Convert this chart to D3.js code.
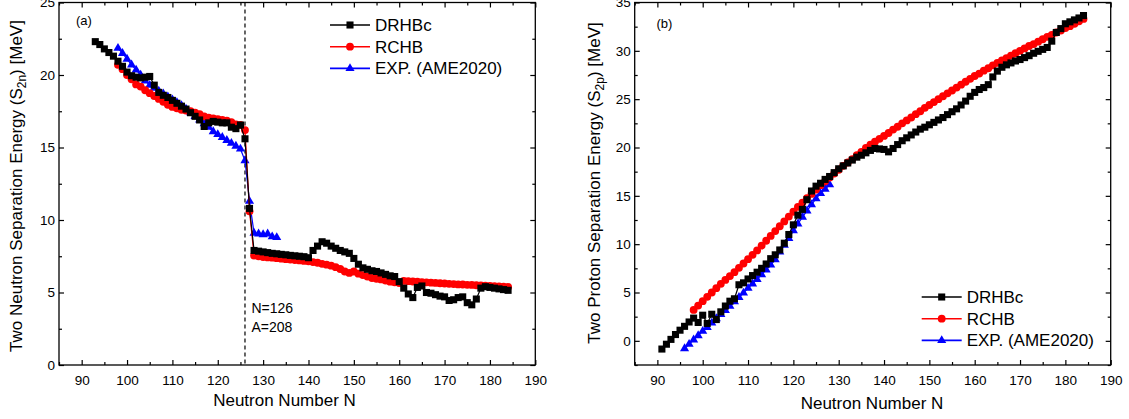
<!DOCTYPE html>
<html>
<head>
<meta charset="utf-8">
<script src="https://cdn.jsdelivr.net/npm/d3@7"></script>
<style>
  body { margin: 0; background: #fff; }
  svg text { font-family: "Liberation Sans", Arial, sans-serif; fill: #000; }
</style>
</head>
<body>
<script>
// ---- data ----
// panel (a): two neutron separation energy S2n [MeV]
var s2nDrhbcStart = 93;
var s2nDrhbc = [
  22.3, 22.1, 21.8, 21.55, 21.3, 20.95, 20.6, 20.2, 19.95, 19.85,
  19.8, 19.85, 19.9, 19.3, 18.8, 18.6, 18.45, 18.25, 18.05, 17.85,
  17.65, 17.4, 17.15, 16.9, 16.45, 16.7, 16.8, 16.75, 16.7, 16.7,
  16.4, 16.3, 16.55, 15.6, 10.8, 7.9, 7.85, 7.8, 7.75, 7.7,
  7.67, 7.63, 7.6, 7.56, 7.53, 7.5, 7.47, 7.4, 7.9, 8.2,
  8.5, 8.4, 8.2, 8.05, 7.9, 7.8, 7.7, 7.35, 6.95, 6.7,
  6.6, 6.5, 6.45, 6.35, 6.25, 6.15, 6.1, 5.75, 5.3, 4.9,
  4.65, 5.35, 5.45, 5.0, 4.95, 4.85, 4.75, 4.7, 4.45, 4.5,
  4.65, 4.7, 4.3, 4.15, 4.55, 5.3, 5.4, 5.35, 5.3, 5.25,
  5.2, 5.15
];
var s2nRchbStart = 98;
var s2nRchb = [
  20.7, 20.4, 20.0, 19.7, 19.35, 19.2, 18.95, 18.75, 18.55, 18.35,
  18.15, 17.95, 17.8, 17.7, 17.6, 17.55, 17.5, 17.4, 17.3, 17.15,
  17.05, 17.0, 16.95, 16.9, 16.85, 16.75, 16.6, 16.55, 16.2, 10.6,
  7.55, 7.5, 7.45, 7.42, 7.4, 7.37, 7.33, 7.3, 7.27, 7.24,
  7.21, 7.18, 7.15, 7.1, 7.05, 6.98, 6.92, 6.85, 6.75, 6.62,
  6.45, 6.35, 6.45, 6.3, 6.2, 6.1, 6.0, 5.95, 5.9, 5.82,
  5.75, 5.7, 5.65, 5.8, 5.78, 5.76, 5.74, 5.72, 5.7, 5.68,
  5.66, 5.64, 5.62, 5.6, 5.58, 5.56, 5.55, 5.53, 5.52, 5.5,
  5.49, 5.47, 5.46, 5.44, 5.42, 5.4, 5.38
];
var s2nExpStart = 98;
var s2nExp = [
  21.85, 21.5, 21.1, 20.7, 20.35, 20.0, 19.6, 19.3, 19.1, 18.9,
  18.7, 18.5, 18.3, 18.1, 17.9, 17.65, 17.4, 17.15, 16.9, 16.65,
  16.4, 16.1, 15.9, 15.7, 15.5, 15.3, 15.1, 14.9, 14.1, 11.3,
  9.1, 9.05, 9.0, 9.05, 8.85, 8.8
];

// panel (b): two proton separation energy S2p [MeV]
var s2pDrhbcStart = 91;
var s2pDrhbc = [
  -0.85, -0.35, 0.15, 0.65, 1.1, 1.5, 1.95, 2.35, 1.9, 2.65,
  1.8, 2.75, 2.2, 3.0, 3.6, 4.1, 4.35, 5.8, 6.0, 6.4,
  6.75, 7.1, 7.5, 7.95, 8.5, 8.9, 9.4, 10.1, 11.0, 12.0,
  13.0, 13.6, 14.6, 15.5, 16.0, 16.3, 16.7, 17.0, 17.4, 17.8,
  18.1, 18.4, 18.7, 19.0, 19.2, 19.45, 19.7, 19.9, 19.85, 19.8,
  19.55, 19.9, 20.3, 20.7, 21.0, 21.3, 21.6, 21.9, 22.1, 22.35,
  22.6, 22.85, 23.1, 23.4, 23.7, 24.0, 24.4, 24.8, 25.3, 25.7,
  26.0, 26.2, 26.5, 27.3, 27.9, 28.3, 28.55, 28.75, 28.95, 29.1,
  29.3, 29.5, 29.75, 29.95, 30.15, 30.35, 31.0, 31.9, 32.3, 32.8,
  33.0, 33.2, 33.4, 33.65
];
var s2pRchbStart = 98;
var s2pRchb = [
  3.2, 3.65, 4.1, 4.55, 5.0, 5.45, 5.9, 6.3, 6.7, 7.1,
  7.55, 8.0, 8.45, 8.9, 9.35, 9.85, 10.35, 10.85, 11.35, 11.85,
  12.35, 12.85, 13.35, 13.85, 14.3, 14.75, 15.2, 15.65, 16.1, 16.5,
  16.9, 17.3, 17.7, 18.1, 18.45, 18.8, 19.2, 19.55, 19.95, 20.3,
  20.6, 20.9, 21.2, 21.5, 21.85, 22.15, 22.5, 22.8, 23.1, 23.45,
  23.75, 24.1, 24.4, 24.7, 25.0, 25.3, 25.6, 25.9, 26.2, 26.5,
  26.8, 27.1, 27.4, 27.65, 27.95, 28.2, 28.5, 28.75, 29.0, 29.25,
  29.5, 29.75, 30.0, 30.25, 30.5, 30.7, 30.95, 31.2, 31.45, 31.65,
  31.9, 32.1, 32.35, 32.55, 32.8, 33.05, 33.3
];
var s2pExpStart = 96;
var s2pExp = [
  -0.8, -0.35, 0.1, 0.55, 1.0, 1.4, 1.85, 2.3, 2.75, 3.15,
  3.6, 4.05, 4.5, 4.95, 5.45, 5.9, 6.35, 6.85, 7.35, 7.85,
  8.4, 9.2, 9.9, 10.6, 11.4, 12.1, 12.8, 13.45, 14.1, 14.7,
  15.25, 15.7, 16.15
];

var legendNames = ["DRHBc", "RCHB", "EXP. (AME2020)"];
var xTicks = [90, 100, 110, 120, 130, 140, 150, 160, 170, 180, 190];

// ---- layout ----
var svg_width = 1129, svg_height = 419;
var svg = d3.select("body").append("svg")
  .attr("width", svg_width)
  .attr("height", svg_height);

// turn a start N + value list into points
function toPoints(start, vals) {
  return vals.map(function(v, i) { return { n: start + i, v: v }; });
}

var styles = [
  { color: "#000000", symbol: d3.symbolSquare, size: 50 },
  { color: "#ff0000", symbol: d3.symbolCircle, size: 48 },
  { color: "#0000ff", symbol: d3.symbolTriangle, size: 36 }
];

function drawPanel(p) {
  var xScale = d3.scaleLinear().domain([85, 190]).range([p.left, p.right]);
  var yScale = d3.scaleLinear().domain(p.yDomain).range([p.bottom, p.top]);
  var g = svg.append("g");

  // minor ticks (inward), all four sides
  var xMinor = d3.range(85, 191, 5).filter(function(d) { return d % 10 !== 0; });
  var yMinor = d3.range(p.yDomain[0], p.yDomain[1] + 0.01, 2.5)
    .filter(function(d) { return p.yTicks.indexOf(d) < 0; });

  function addAxis(axis, tx, ty) {
    var a = g.append("g")
      .attr("transform", "translate(" + tx + "," + ty + ")")
      .call(axis);
    a.select(".domain").remove();
    a.selectAll("line").attr("stroke", "#000").attr("stroke-width", 1.2);
    return a;
  }

  // bottom: major with labels
  var xb = addAxis(d3.axisBottom(xScale).tickValues(xTicks).tickSize(-5).tickPadding(10)
    .tickFormat(d3.format("d")), 0, p.bottom);
  xb.selectAll("text").attr("font-size", "13.5px").attr("dy", "0.71em")
    .style("font-family", "'Liberation Sans', Arial, sans-serif");
  addAxis(d3.axisBottom(xScale).tickValues(xMinor).tickSize(-3).tickFormat(""), 0, p.bottom);
  // top
  addAxis(d3.axisTop(xScale).tickValues(xTicks).tickSize(-5).tickFormat(""), 0, p.top);
  addAxis(d3.axisTop(xScale).tickValues(xMinor).tickSize(-3).tickFormat(""), 0, p.top);
  // left
  var yl = addAxis(d3.axisLeft(yScale).tickValues(p.yTicks).tickSize(-5).tickPadding(4)
    .tickFormat(d3.format("d")), p.left, 0);
  yl.selectAll("text").attr("font-size", "13.5px")
    .style("font-family", "'Liberation Sans', Arial, sans-serif");
  addAxis(d3.axisLeft(yScale).tickValues(yMinor).tickSize(-3).tickFormat(""), p.left, 0);
  // right
  addAxis(d3.axisRight(yScale).tickValues(p.yTicks).tickSize(-5).tickFormat(""), p.right, 0);
  addAxis(d3.axisRight(yScale).tickValues(yMinor).tickSize(-3).tickFormat(""), p.right, 0);

  // frame
  g.append("rect")
    .attr("x", p.left).attr("y", p.top)
    .attr("width", p.right - p.left).attr("height", p.bottom - p.top)
    .attr("fill", "none").attr("stroke", "#000").attr("stroke-width", 1.3);

  if (p.extra) p.extra(g, xScale, yScale);

  // series: EXP first, then RCHB, DRHBc on top
  var order = [2, 1, 0];
  order.forEach(function(k) {
    var pts = p.series[k];
    var st = styles[k];
    var line = d3.line().x(function(d) { return xScale(d.n); }).y(function(d) { return yScale(d.v); });
    g.append("path").datum(pts)
      .attr("d", line).attr("fill", "none")
      .attr("stroke", st.color).attr("stroke-width", 1.2);
    g.selectAll(".m" + k).data(pts).enter().append("path")
      .attr("class", "m" + k)
      .attr("transform", function(d) { return "translate(" + xScale(d.n) + "," + yScale(d.v) + ")"; })
      .attr("d", d3.symbol().type(st.symbol).size(st.size))
      .attr("fill", st.color);
  });

  // legend
  legendNames.forEach(function(name, i) {
    var ly = p.legendY + i * 21.7;
    var st = styles[i];
    g.append("line")
      .attr("x1", p.legendX).attr("x2", p.legendX + 40)
      .attr("y1", ly).attr("y2", ly)
      .attr("stroke", st.color).attr("stroke-width", 1.6);
    g.append("path")
      .attr("transform", "translate(" + (p.legendX + 20) + "," + ly + ")")
      .attr("d", d3.symbol().type(st.symbol).size(st.size))
      .attr("fill", st.color);
    g.append("text")
      .attr("x", p.legendX + 45).attr("y", ly + 6)
      .attr("font-size", "17px")
      .text(name);
  });

  // panel tag
  g.append("text").attr("x", p.tagX).attr("y", p.tagY)
    .attr("font-size", "13px").text(p.tag);

  // x-axis title
  g.append("text")
    .attr("x", p.xTitleX).attr("y", p.xTitleY)
    .attr("text-anchor", "middle")
    .attr("font-size", "17px")
    .text("Neutron Number N");

  // rotated y-axis title with subscript
  var yt = g.append("text")
    .attr("text-anchor", "middle")
    .attr("font-size", "17px")
    .attr("transform", "translate(" + p.yTitleX + "," + p.yTitleY + ") rotate(-90)");
  yt.append("tspan").text(p.yTitleA);
  yt.append("tspan").attr("font-size", "12px").attr("dy", 4).text(p.yTitleSub);
  yt.append("tspan").attr("dy", -4).text(") [MeV]");
}

drawPanel({
  left: 59, right: 535.3, top: 2.5, bottom: 365,
  yDomain: [0, 25], yTicks: [0, 5, 10, 15, 20, 25],
  series: [toPoints(s2nDrhbcStart, s2nDrhbc), toPoints(s2nRchbStart, s2nRchb), toPoints(s2nExpStart, s2nExp)],
  legendX: 330, legendY: 25,
  tag: "(a)", tagX: 76, tagY: 25,
  xTitleX: 284.5, xTitleY: 406,
  yTitleX: 22, yTitleY: 186,
  yTitleA: "Two Neutron Separation Energy (S", yTitleSub: "2n",
  extra: function(g, xScale, yScale) {
    // magic number N=126 marker
    g.append("line")
      .attr("x1", xScale(126)).attr("x2", xScale(126))
      .attr("y1", yScale(25)).attr("y2", yScale(0))
      .attr("stroke", "#000").attr("stroke-width", 1.2)
      .attr("stroke-dasharray", "4,3");
    g.append("text").attr("x", xScale(126) + 6.5).attr("y", 313)
      .attr("font-size", "14px").text("N=126");
    g.append("text").attr("x", xScale(126) + 6.5).attr("y", 332)
      .attr("font-size", "14px").text("A=208");
  }
});

drawPanel({
  left: 634.7, right: 1110.7, top: 2.5, bottom: 365,
  yDomain: [-2.5, 35], yTicks: [0, 5, 10, 15, 20, 25, 30, 35],
  series: [toPoints(s2pDrhbcStart, s2pDrhbc), toPoints(s2pRchbStart, s2pRchb), toPoints(s2pExpStart, s2pExp)],
  legendX: 921.7, legendY: 297,
  tag: "(b)", tagX: 656.5, tagY: 28,
  xTitleX: 872, xTitleY: 409,
  yTitleX: 600, yTitleY: 183,
  yTitleA: "Two Proton Separation Energy (S", yTitleSub: "2p"
});
</script>
</body>
</html>
